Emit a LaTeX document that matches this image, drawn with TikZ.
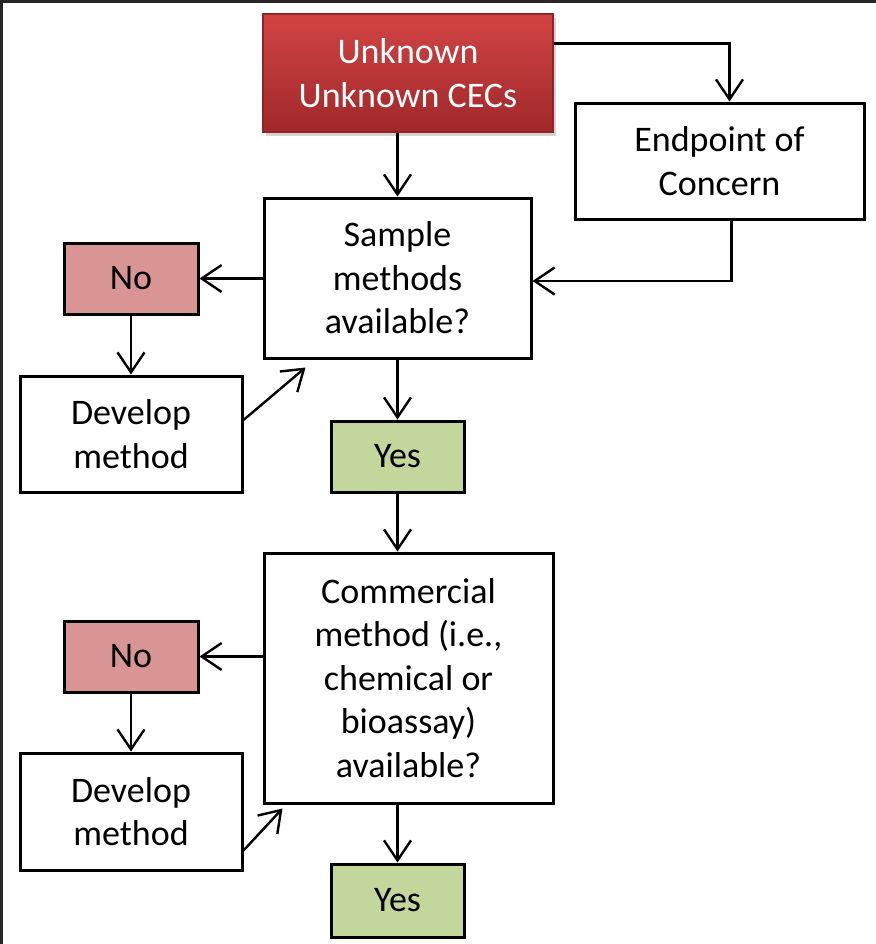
\documentclass[tikz,border=0pt]{standalone}
\usepackage{fontspec}
\setmainfont{Carlito}
\usetikzlibrary{arrows.meta,shadows,calc}
\definecolor{redtop}{HTML}{D24444}
\definecolor{redbot}{HTML}{A0282A}
\definecolor{pinkbox}{HTML}{D99594}
\definecolor{greenbox}{HTML}{C3D69B}
\begin{document}
\begin{tikzpicture}[x=0.5pt,y=-0.5pt,
  every node/.style={font=\fontsize{18pt}{21.7pt}\selectfont, align=center, inner sep=0pt},
  box/.style={draw=black, line width=1.5pt, fill=white, rectangle},
  nobox/.style={box, fill=pinkbox, minimum width=67pt, minimum height=35.5pt},
  yesbox/.style={box, fill=greenbox, minimum width=66.5pt, minimum height=35.5pt},
  devbox/.style={box, minimum width=111pt, minimum height=58pt},
  conn/.style={draw=black, line width=1.2pt, -{Straight Barb[length=10pt,width=13.5pt,line width=1.2pt]}}
]
\useasboundingbox (0,0) rectangle (876,944);
\draw[line width=1.5pt, black!85] (1.5,944) -- (1.5,1.5) -- (876,1.5);

\node[rectangle, top color=redtop, bottom color=redbot, draw=redbot!90!black, line width=0.6pt,
      drop shadow={shadow xshift=1.5pt, shadow yshift=-2pt, opacity=0.35},
      minimum width=145pt, minimum height=59pt, text=white] (red) at (408,73) {Unknown\\Unknown CECs};
\node[box, minimum width=144.5pt, minimum height=58pt] (end) at (719.5,161) {Endpoint of\\Concern};
\node[box, minimum width=133.5pt, minimum height=80pt] (sample) at (397.5,278) {Sample\\methods\\available?};
\node[nobox] (no1) at (131,278.5) {No};
\node[devbox] (dev1) at (131,434) {Develop\\method};
\node[yesbox] (yes1) at (397.5,456.5) {Yes};
\node[box, minimum width=144.5pt, minimum height=125pt] (comm) at (408.5,678) {Commercial\\method (i.e.,\\chemical or\\bioassay)\\available?};
\node[nobox] (no2) at (131,656.5) {No};
\node[devbox, minimum height=58.5pt] (dev2) at (131,811.5) {Develop\\method};
\node[yesbox, minimum height=36.5pt] (yes2) at (397.5,900.5) {Yes};

\coordinate (redout) at ($(red.north east)+(0,30)$);
\coordinate (endin) at ($(end.north)+(10,0)$);
\coordinate (endout) at ($(end.south)+(12,0)$);
\coordinate (sin) at ($(sample.south west)+(43,8)$);
\coordinate (cin) at ($(comm.south west)+(20,4)$);

\draw[conn] (redout) -| (endin);
\draw[conn] (sample.north |- red.south) -- (sample.north);
\draw[conn] (endout) |- ($(sample.east)+(0,3)$);
\draw[conn] (sample.west |- no1.east) -- (no1.east);
\draw[conn] (no1.south) -- (dev1.north);
\draw[conn] ($(dev1.east)+(0,-14)$) -- (sin);
\draw[conn] (sample.south) -- (yes1.north);
\draw[conn] (yes1.south) -- (yes1.south |- comm.north);
\draw[conn] (comm.west |- no2.east) -- (no2.east);
\draw[conn] (no2.south) -- (dev2.north);
\draw[conn] ($(dev2.east)+(0,39)$) -- (cin);
\draw[conn] (yes2.north |- comm.south) -- (yes2.north);
\end{tikzpicture}
\end{document}
